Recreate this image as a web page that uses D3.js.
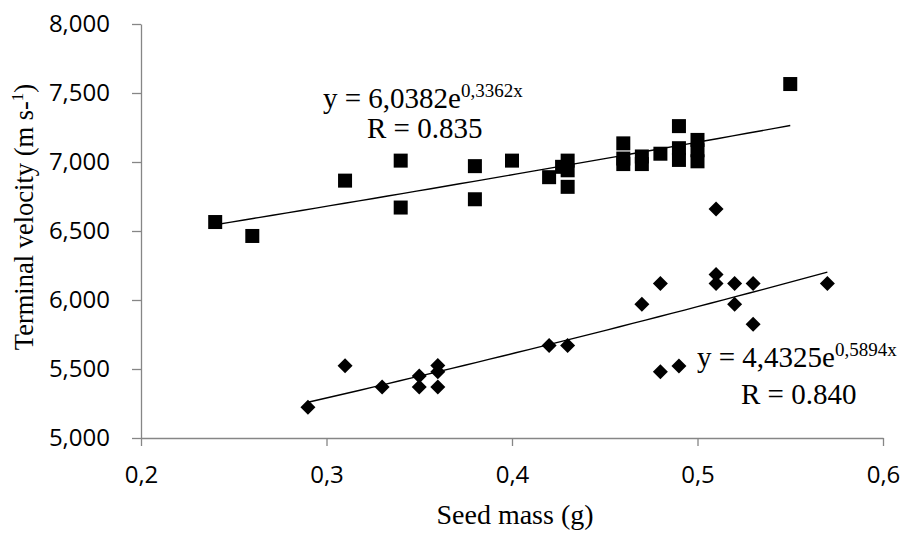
<!DOCTYPE html>
<html>
<head>
<meta charset="utf-8">
<script src="https://cdn.jsdelivr.net/npm/d3@7"></script>
<style>
  body { margin: 0; background: #fff; }
  svg { display: block; }
</style>
</head>
<body>
<div id="chart"></div>
<script>
// chart size
const width = 906, height = 533;

// upper series (squares)
const massSquare = [0.24, 0.26, 0.31, 0.34, 0.34, 0.38, 0.38, 0.40, 0.42, 0.427, 0.43, 0.43, 0.43,
                    0.46, 0.46, 0.46, 0.47, 0.47, 0.48, 0.49, 0.49, 0.49, 0.50, 0.50, 0.50, 0.55];
const velSquare  = [6565, 6464, 6865, 7010, 6670, 6970, 6730, 7010, 6890, 6965, 7010, 6940, 6820,
                    7135, 7025, 6985, 7040, 6985, 7060, 7260, 7100, 7015, 7160, 7085, 7005, 7565];

// lower series (diamonds)
const massDiamond = [0.29, 0.31, 0.33, 0.35, 0.35, 0.36, 0.36, 0.36, 0.42, 0.43, 0.47, 0.48, 0.48,
                     0.49, 0.51, 0.51, 0.51, 0.52, 0.52, 0.53, 0.53, 0.57];
const velDiamond  = [5222, 5524, 5370, 5450, 5370, 5525, 5480, 5370, 5670, 5670, 5970, 6120, 5480,
                     5522, 6660, 6185, 6120, 6120, 5970, 6120, 5825, 6120];

// trendline equations, y = a * e^(b x)  (in thousands)
const trendA = {a: 6.0382, b: 0.3362, from: 0.24, to: 0.55};
const trendB = {a: 4.4325, b: 0.5894, from: 0.29, to: 0.57};

// tick values
const xTicks = [0.2, 0.3, 0.4, 0.5, 0.6];
const yTicks = [5000, 5500, 6000, 6500, 7000, 7500, 8000];

const svg = d3.select("#chart")
    .append("svg")
    .attr("width", width)
    .attr("height", height);

let x = d3.scaleLinear().domain([0.2, 0.6]).range([141, 883]);
let y = d3.scaleLinear().domain([5000, 8000]).range([438, 24]);

const axisColor = "#868686";

// y axis
let yAxis = svg.append("g")
    .attr("transform", "translate(141,0)")
    .call(d3.axisLeft(y).tickValues(yTicks).tickSize(9).tickSizeOuter(0)
        .tickPadding(22).tickFormat(d3.format(",")));

// x axis
let xAxis = svg.append("g")
    .attr("transform", "translate(0,438)")
    .call(d3.axisBottom(x).tickValues(xTicks).tickSize(8).tickSizeOuter(0)
        .tickPadding(20).tickFormat(d => d3.format(".1f")(d).replace(".", ",")));

svg.selectAll(".domain, .tick line").attr("stroke", axisColor).attr("stroke-width", 1.3);
svg.selectAll(".tick text")
    .attr("fill", "#000")
    .style("font-family", "'Open Sans', sans-serif")
    .style("font-size", "24px");

// trendlines
function trendPoints(t) {
    let pts = [];
    for (let i = 0; i <= 40; i++) {
        let m = t.from + (t.to - t.from) * i / 40;
        pts.push([m, t.a * Math.exp(t.b * m) * 1000]);
    }
    return pts;
}
let line = d3.line().x(d => x(d[0])).y(d => y(d[1]));
[trendA, trendB].forEach(t => {
    svg.append("path")
        .attr("d", line(trendPoints(t)))
        .attr("fill", "none")
        .attr("stroke", "#000")
        .attr("stroke-width", 1.4);
});

// squares
let sq = 14;
svg.selectAll("rect.sq")
    .data(massSquare.map((m, i) => [m, velSquare[i]]))
    .enter()
    .append("rect")
    .attr("class", "sq")
    .attr("x", d => x(d[0]) - sq / 2)
    .attr("y", d => y(d[1]) - sq / 2)
    .attr("width", sq)
    .attr("height", sq)
    .attr("fill", "#000");

// diamonds
let dr = 7.5;
svg.selectAll("path.dm")
    .data(massDiamond.map((m, i) => [m, velDiamond[i]]))
    .enter()
    .append("path")
    .attr("class", "dm")
    .attr("transform", d => `translate(${x(d[0])},${y(d[1])})`)
    .attr("d", `M0,${-dr}L${dr},0L0,${dr}L${-dr},0Z`)
    .attr("fill", "#000");

// text helpers
const serif = "'Liberation Serif', 'Times New Roman', serif";

function equation(xPos, yPos, main, sup) {
    let t = svg.append("text")
        .attr("x", xPos)
        .attr("y", yPos)
        .style("font-family", serif)
        .style("font-size", "29px");
    t.append("tspan").text(main);
    t.append("tspan").attr("dy", -11).style("font-size", "19px").text(sup);
}
function rText(xPos, yPos, s) {
    svg.append("text")
        .attr("x", xPos)
        .attr("y", yPos)
        .style("font-family", serif)
        .style("font-size", "29px")
        .text(s);
}

equation(323, 108, "y = 6,0382e", "0,3362x");
rText(367, 138, "R = 0.835");
equation(697, 367, "y = 4,4325e", "0,5894x");
rText(741, 404, "R = 0.840");

// axis titles
svg.append("text")
    .attr("x", 515)
    .attr("y", 524)
    .style("text-anchor", "middle")
    .style("font-family", serif)
    .style("font-size", "28px")
    .text("Seed mass (g)");

let yt = svg.append("text")
    .attr("transform", "translate(33,217) rotate(-90)")
    .style("text-anchor", "middle")
    .style("font-family", serif)
    .style("font-size", "26.5px");
yt.append("tspan").text("Terminal velocity (m s-");
yt.append("tspan").attr("dy", -10).style("font-size", "17px").text("1");
yt.append("tspan").attr("dy", 10).text(")");
</script>
</body>
</html>
